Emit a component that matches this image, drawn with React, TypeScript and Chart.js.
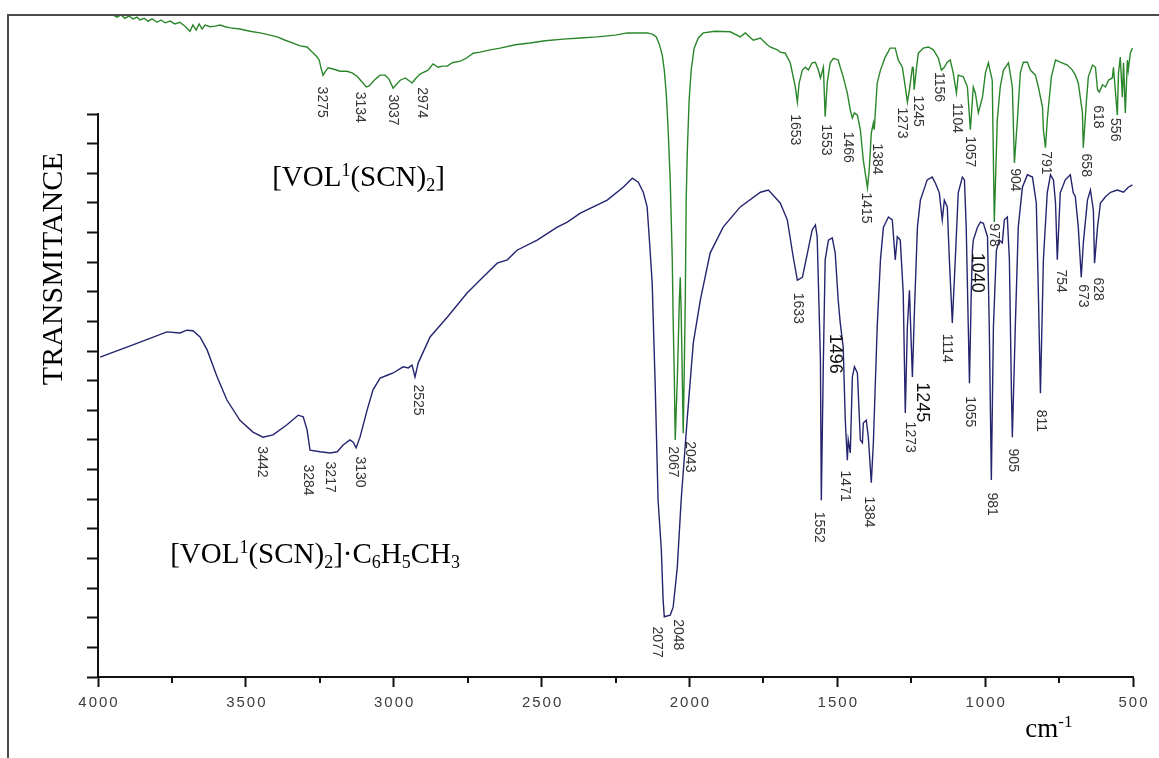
import React, { useEffect, useRef } from "react";
import { Chart, registerables } from "chart.js";

Chart.register(...registerables);

// ---- Data (wavenumber in cm-1, transmittance in arbitrary %-like units, 0 = axis bottom, 100 = axis top) ----
const greenWavenumbers = [
  3949, 3936, 3922, 3909, 3895, 3882, 3868, 3858, 3844, 3831, 3817, 3800, 3787, 3773, 3756, 3740, 3723, 3706, 3689, 3679,
  3668, 3658, 3648, 3638, 3621, 3604, 3587, 3570, 3553, 3520, 3486, 3452, 3418, 3394, 3367, 3340, 3317, 3293, 3276, 3262,
  3252, 3246, 3239, 3232, 3222, 3205, 3181, 3158, 3141, 3124, 3107, 3093, 3083, 3066, 3046, 3029, 3016, 3002, 2992, 2978,
  2961, 2948, 2938, 2924, 2911, 2884, 2867, 2850, 2836, 2819, 2802, 2775, 2755, 2731, 2708, 2674, 2640, 2589, 2539, 2488,
  2427, 2369, 2312, 2251, 2210, 2177, 2143, 2126, 2112, 2102, 2092, 2085, 2078, 2072, 2065, 2058, 2055, 2051, 2048, 2041,
  2034, 2031, 2028, 2024, 2021, 2018, 2014, 2011, 2007, 2001, 1994, 1984, 1970, 1953, 1913, 1862, 1828, 1811, 1784, 1760,
  1737, 1727, 1703, 1693, 1676, 1659, 1642, 1635, 1629, 1618, 1608, 1598, 1585, 1574, 1564, 1557, 1547, 1541, 1534, 1524,
  1513, 1497, 1490, 1480, 1466, 1456, 1449, 1442, 1432, 1422, 1412, 1398, 1392, 1385, 1378, 1375, 1365, 1354, 1338, 1321,
  1304, 1294, 1280, 1270, 1263, 1256, 1246, 1243, 1240, 1233, 1226, 1209, 1192, 1175, 1158, 1148, 1138, 1128, 1118, 1108,
  1097, 1091, 1074, 1060, 1050, 1040, 1033, 1023, 1009, 999, 989, 976, 969, 959, 949, 938, 921, 908, 901, 891,
  881, 871, 857, 847, 830, 820, 806, 803, 796, 790, 786, 776, 762, 746, 722, 705, 695, 685, 671, 668,
  658, 651, 637, 627, 620, 614, 603, 593, 583, 570, 566, 560, 553, 549, 543, 536, 532, 526, 519, 516,
  509, 502,
];
const greenTransmittance = [
  117.6, 117.2, 117.6, 117.0, 117.4, 116.9, 117.2, 116.7, 117.0, 116.5, 116.9, 116.3, 116.7, 116.2, 116.5, 116.0, 116.3, 115.6, 114.7, 115.8,
  114.9, 116.0, 115.1, 115.8, 115.5, 115.6, 115.8, 115.5, 115.3, 115.1, 114.7, 114.4, 114.0, 113.7, 113.1, 112.6, 112.1, 111.9, 111.0, 110.3,
  109.6, 108.2, 106.9, 107.5, 108.2, 108.0, 107.6, 107.6, 107.3, 106.7, 105.7, 104.8, 105.0, 106.0, 106.9, 106.9, 106.2, 104.6, 105.2, 106.0,
  106.4, 105.9, 105.5, 106.4, 107.1, 107.8, 108.9, 108.3, 108.5, 108.5, 109.1, 109.4, 109.9, 110.8, 111.0, 111.4, 111.7, 112.3, 112.6, 113.0,
  113.3, 113.5, 113.7, 114.0, 114.4, 114.4, 114.4, 114.2, 113.7, 112.4, 110.5, 107.8, 103.4, 97.2, 88.3, 74.1, 63.4, 52.8, 42.1, 52.8,
  67.0, 71.0, 65.2, 52.8, 43.3, 52.8, 67.0, 84.7, 93.6, 102.5, 107.8, 111.7, 113.5, 114.4, 114.7, 114.6, 113.7, 114.4, 113.1, 113.5,
  112.3, 111.9, 111.4, 111.0, 110.8, 109.1, 104.8, 102.1, 105.5, 107.8, 108.3, 107.8, 109.1, 109.2, 107.8, 106.4, 108.3, 99.5, 105.5, 109.1,
  109.9, 109.6, 108.3, 106.6, 103.7, 100.7, 99.3, 100.2, 99.8, 97.2, 91.8, 86.9, 90.1, 96.6, 98.4, 97.2, 105.5, 107.8, 110.1, 111.7,
  111.7, 109.6, 108.3, 104.8, 102.1, 104.3, 108.3, 108.2, 104.3, 107.8, 110.8, 111.7, 111.9, 111.4, 109.9, 107.8, 108.3, 109.2, 109.6, 107.3,
  103.7, 106.9, 106.6, 104.8, 97.2, 104.8, 103.7, 100.2, 103.0, 107.3, 109.1, 106.0, 80.8, 98.9, 104.8, 107.8, 109.1, 104.8, 91.3, 98.9,
  107.3, 109.2, 109.2, 107.8, 106.9, 104.8, 101.2, 97.2, 94.0, 98.9, 101.2, 106.6, 109.6, 109.2, 108.7, 107.8, 106.9, 105.5, 100.2, 94.0,
  102.0, 106.6, 108.7, 108.3, 104.3, 103.9, 105.2, 104.8, 106.0, 106.4, 108.3, 104.3, 99.8, 107.3, 110.1, 103.0, 109.1, 100.2, 109.6, 107.8,
  110.8, 111.7,
];

const blueWavenumbers = [
  3993, 3882, 3767, 3723, 3699, 3679, 3655, 3631, 3597, 3564, 3520, 3476, 3442, 3408, 3361, 3323, 3306, 3293, 3283, 3249,
  3215, 3191, 3171, 3148, 3137, 3127, 3114, 3090, 3070, 3046, 3022, 3002, 2968, 2951, 2938, 2928, 2917, 2877, 2819, 2752,
  2708, 2650, 2616, 2583, 2515, 2447, 2413, 2369, 2278, 2224, 2193, 2173, 2156, 2143, 2133, 2126, 2116, 2106, 2095, 2089,
  2085, 2065, 2055, 2041, 2028, 2007, 1987, 1963, 1930, 1886, 1828, 1760, 1733, 1693, 1669, 1649, 1635, 1618, 1601, 1585,
  1574, 1568, 1557, 1554, 1547, 1541, 1530, 1517, 1507, 1497, 1490, 1480, 1473, 1466, 1463, 1456, 1449, 1442, 1432, 1422,
  1415, 1412, 1402, 1395, 1385, 1378, 1365, 1354, 1344, 1327, 1314, 1304, 1297, 1287, 1277, 1270, 1263, 1256, 1250, 1246,
  1239, 1229, 1219, 1196, 1179, 1168, 1155, 1145, 1138, 1128, 1121, 1111, 1101, 1091, 1077, 1070, 1064, 1057, 1053, 1047,
  1043, 1040, 1026, 1016, 1006, 992, 986, 979, 972, 962, 952, 942, 935, 925, 918, 911, 908, 898, 888, 874,
  857, 840, 827, 820, 813, 803, 790, 779, 769, 762, 756, 746, 729, 712, 702, 695, 685, 675, 668, 654,
  644, 634, 630, 620, 610, 593, 576, 553, 532, 516, 502,
];
const blueTransmittance = [
  56.8, 59.0, 61.3, 61.1, 61.6, 61.5, 60.4, 58.1, 53.3, 49.2, 45.6, 43.5, 42.6, 43.0, 44.8, 46.5, 46.2, 43.9, 40.3, 40.0,
  39.8, 40.0, 41.2, 42.1, 41.7, 40.7, 42.6, 47.4, 51.0, 53.1, 53.6, 54.0, 55.1, 54.9, 55.4, 53.3, 55.8, 60.4, 63.9, 68.2,
  70.5, 73.5, 74.1, 75.8, 77.6, 79.9, 80.8, 82.4, 84.7, 87.0, 88.6, 87.9, 86.1, 83.5, 75.8, 70.0, 52.2, 31.4, 22.6, 13.7,
  10.7, 11.0, 12.4, 19.5, 31.4, 46.2, 59.3, 67.0, 75.3, 79.9, 83.5, 86.1, 86.5, 84.2, 81.2, 74.6, 70.5, 71.0, 75.3, 79.4,
  80.3, 78.2, 56.3, 31.4, 56.3, 74.1, 77.6, 78.0, 75.3, 67.0, 62.9, 58.6, 45.6, 38.5, 42.1, 39.8, 53.3, 55.1, 54.0, 42.1,
  41.6, 45.1, 45.6, 42.6, 34.5, 41.6, 62.2, 74.1, 79.9, 81.7, 81.2, 74.1, 78.2, 77.6, 68.2, 46.9, 62.2, 68.7, 59.3, 53.3,
  65.2, 79.9, 84.7, 88.3, 88.8, 87.7, 86.0, 81.2, 84.7, 83.5, 74.1, 62.9, 74.1, 86.0, 88.8, 88.3, 79.9, 62.2, 52.2, 68.2,
  75.8, 77.6, 79.9, 80.8, 80.6, 78.2, 62.2, 35.0, 62.2, 75.8, 77.6, 77.1, 81.2, 81.7, 74.1, 50.4, 42.6, 62.2, 79.9, 87.0,
  89.2, 88.8, 84.2, 68.2, 50.4, 74.1, 86.0, 89.2, 88.3, 84.2, 74.1, 86.0, 88.3, 89.2, 86.0, 85.3, 79.9, 71.0, 77.1, 84.7,
  86.5, 82.9, 73.5, 79.9, 84.2, 85.3, 86.1, 86.5, 86.1, 87.0, 87.4,
];

// axis ticks
const xMajorTicks = [4000, 3500, 3000, 2500, 2000, 1500, 1000, 500];
const xMinorTicks = [3750, 3250, 2750, 2250, 1750, 1250, 750];
const yTickCount = 19;

// peak labels: text, wavenumber position, level position
const greenPeakText = ["3275", "3134", "3037", "2974", "2067", "2043", "1653", "1553", "1466", "1384", "1415", "1273", "1245", "1156", "1104", "1057", "904", "978", "791", "658", "618", "556"];
const greenPeakWn = [3242, 3114, 3002, 2904, 2055, 1997, 1642, 1537, 1463, 1365, 1405, 1280, 1229, 1155, 1094, 1050, 898, 972, 796, 661, 620, 560];
const greenPeakLevel = [102.1, 101.2, 100.7, 102.0, 38.2, 39.1, 97.2, 95.4, 94.1, 92.0, 83.3, 98.4, 100.5, 104.8, 99.3, 93.3, 88.3, 78.5, 91.3, 90.9, 99.5, 97.2];

const bluePeakText = ["3442", "3284", "3217", "3130", "2525", "2077", "2048", "1633", "1552", "1496", "1471", "1384", "1273", "1245", "1114", "1040", "1055", "981", "905", "811", "754", "673", "628"];
const bluePeakWn = [3445, 3290, 3215, 3114, 2917, 2109, 2038, 1635, 1564, 1507, 1473, 1392, 1253, 1212, 1128, 1026, 1050, 976, 905, 810, 745, 671, 620];
const bluePeakLevel = [38.2, 35.0, 35.5, 36.4, 49.2, 6.2, 7.5, 65.5, 26.6, 57.4, 33.9, 29.3, 42.6, 48.8, 58.4, 71.8, 47.1, 30.7, 38.5, 45.5, 70.3, 67.7, 68.9];
const bluePeakLarge = ["1496", "1245", "1040"];

// compound names (segments: normal / sup / sub)
const topCompound = [["[VOL", "n"], ["1", "sup"], ["(SCN)", "n"], ["2", "sub"], ["]", "n"]];
const bottomCompound = [
  ["[VOL", "n"], ["1", "sup"], ["(SCN)", "n"], ["2", "sub"], ["]·C", "n"], ["6", "sub"], ["H", "n"], ["5", "sub"], ["CH", "n"], ["3", "sub"],
];
const topCompoundAt = [3411, 87.2];
const bottomCompoundAt = [3756, 20.2];
const yTitle = "TRANSMITANCE";
const yTitleLevel = 72.5;
const xUnit = [["cm", "n"], ["-1", "sup"]];
const xUnitWn = 864;

const GREEN = "#2a862a";
const BLUE = "#24246f";
const SERIF = "'Liberation Serif', 'Times New Roman', serif";
const SANS = "'Liberation Sans', Arial, sans-serif";

function drawSegments(ctx: CanvasRenderingContext2D, segs: string[][], x: number, baseline: number, size: number) {
  let cx = x;
  for (const [t, kind] of segs) {
    if (kind === "n") {
      ctx.font = `${size}px ${SERIF}`;
      ctx.fillText(t, cx, baseline);
    } else if (kind === "sup") {
      ctx.font = `${Math.round(size * 0.62)}px ${SERIF}`;
      ctx.fillText(t, cx, baseline - size * 0.36);
    } else {
      ctx.font = `${Math.round(size * 0.62)}px ${SERIF}`;
      ctx.fillText(t, cx, baseline + size * 0.18);
    }
    cx += ctx.measureText(t).width;
  }
}

const decorPlugin = {
  id: "decor",
  afterDraw(chart: any) {
    const { ctx, chartArea } = chart;
    const xs = chart.scales.x;
    const ys = chart.scales.y;
    ctx.save();

    // picture frame
    ctx.strokeStyle = "#4a4a4a";
    ctx.lineWidth = 2;
    ctx.beginPath();
    ctx.moveTo(7, 15);
    ctx.lineTo(1159, 15);
    ctx.moveTo(8, 14);
    ctx.lineTo(8, 758);
    ctx.stroke();

    // minor x ticks
    ctx.strokeStyle = "#111";
    ctx.lineWidth = 2;
    ctx.beginPath();
    for (const v of xMinorTicks) {
      const px = Math.round(xs.getPixelForValue(v));
      ctx.moveTo(px, chartArea.bottom);
      ctx.lineTo(px, chartArea.bottom + 6);
    }
    ctx.stroke();

    // x tick labels
    ctx.fillStyle = "#3c3c3c";
    ctx.font = `15px ${SANS}`;
    (ctx as any).letterSpacing = "2px";
    ctx.textAlign = "center";
    ctx.textBaseline = "middle";
    for (const v of xMajorTicks) {
      ctx.fillText(String(v), xs.getPixelForValue(v) + 1, chartArea.bottom + 26);
    }
    (ctx as any).letterSpacing = "0px";

    // peak labels (rotated, reading downward)
    const drawPeak = (t: string, wn: number, lvl: number, big: boolean) => {
      ctx.save();
      ctx.translate(xs.getPixelForValue(wn), ys.getPixelForValue(lvl));
      ctx.rotate(Math.PI / 2);
      ctx.font = big ? `18px ${SANS}` : `14px ${SANS}`;
      ctx.fillStyle = big ? "#111" : "#333";
      ctx.textAlign = "center";
      ctx.textBaseline = "middle";
      ctx.fillText(t, 0, 0);
      ctx.restore();
    };
    greenPeakText.forEach((t, i) => drawPeak(t, greenPeakWn[i], greenPeakLevel[i], false));
    bluePeakText.forEach((t, i) => drawPeak(t, bluePeakWn[i], bluePeakLevel[i], bluePeakLarge.includes(t)));

    // compound names
    ctx.fillStyle = "#000";
    ctx.textAlign = "left";
    ctx.textBaseline = "alphabetic";
    drawSegments(ctx, topCompound, xs.getPixelForValue(topCompoundAt[0]), ys.getPixelForValue(topCompoundAt[1]), 29);
    drawSegments(ctx, bottomCompound, xs.getPixelForValue(bottomCompoundAt[0]), ys.getPixelForValue(bottomCompoundAt[1]), 29);

    // x unit
    drawSegments(ctx, xUnit, xs.getPixelForValue(xUnitWn), chartArea.bottom + 60, 27);

    // y title
    ctx.save();
    ctx.translate(chartArea.left - 44, ys.getPixelForValue(yTitleLevel));
    ctx.rotate(-Math.PI / 2);
    ctx.font = `30px ${SERIF}`;
    ctx.textAlign = "center";
    ctx.textBaseline = "middle";
    ctx.fillText(yTitle, 0, 0);
    ctx.restore();

    ctx.restore();
  },
};

export default function App() {
  const canvasRef = useRef<HTMLCanvasElement | null>(null);

  useEffect(() => {
    if (!canvasRef.current) return;
    const greenData = greenWavenumbers.map((x, i) => ({ x, y: greenTransmittance[i] }));
    const blueData = blueWavenumbers.map((x, i) => ({ x, y: blueTransmittance[i] }));
    const yTicks = Array.from({ length: yTickCount + 1 }, (_, i) => ({ value: (i * 100) / yTickCount }));

    const chart = new Chart(canvasRef.current, {
      type: "line",
      data: {
        datasets: [
          {
            label: "[VOL1(SCN)2]",
            data: greenData,
            borderColor: GREEN,
            borderWidth: 1.4,
            pointRadius: 0,
            tension: 0,
            clip: false as any,
          },
          {
            label: "[VOL1(SCN)2]·C6H5CH3",
            data: blueData,
            borderColor: BLUE,
            borderWidth: 1.4,
            pointRadius: 0,
            tension: 0,
            clip: false as any,
          },
        ],
      },
      options: {
        responsive: false,
        animation: false,
        events: [],
        layout: { padding: { left: 98, right: 26, top: 114, bottom: 81 } },
        plugins: { legend: { display: false }, tooltip: { enabled: false } },
        scales: {
          x: {
            type: "linear",
            reverse: true,
            min: 500,
            max: 4000,
            afterFit: (s: any) => {
              s.height = 0;
            },
            afterBuildTicks: (s: any) => {
              s.ticks = xMajorTicks.map((v) => ({ value: v }));
            },
            ticks: { display: false },
            grid: { display: true, drawOnChartArea: false, drawTicks: true, tickLength: 10, tickWidth: 2, tickColor: "#111" },
            border: { display: true, color: "#111", width: 2 },
          },
          y: {
            type: "linear",
            min: 0,
            max: 100,
            afterFit: (s: any) => {
              s.width = 0;
            },
            afterBuildTicks: (s: any) => {
              s.ticks = yTicks;
            },
            ticks: { display: false },
            grid: { display: true, drawOnChartArea: false, drawTicks: true, tickLength: 11, tickWidth: 2, tickColor: "#111" },
            border: { display: true, color: "#111", width: 2 },
          },
        },
      },
      plugins: [decorPlugin],
    });
    return () => chart.destroy();
  }, []);

  return (
    <div style={{ position: "absolute", left: 0, top: 0, width: 1159, height: 758, background: "#fff" }}>
      <canvas ref={canvasRef} width={1159} height={758} style={{ width: 1159, height: 758, display: "block" }} />
    </div>
  );
}
